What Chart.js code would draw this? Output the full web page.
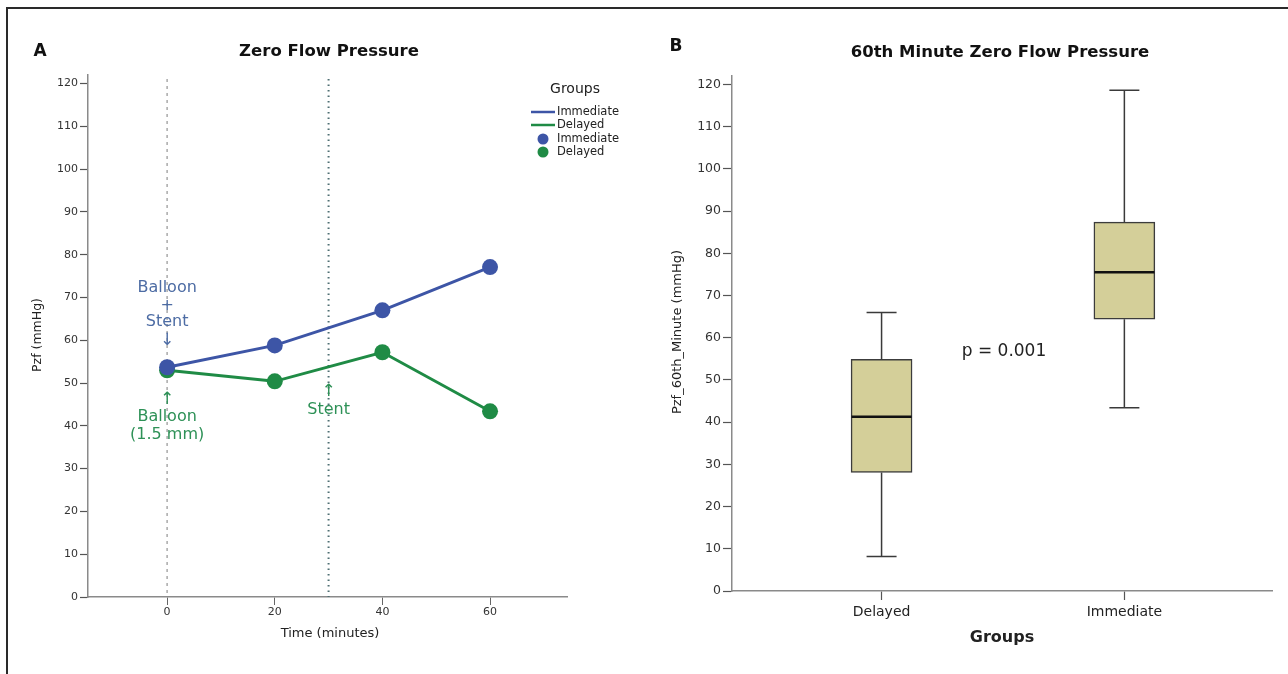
<!DOCTYPE html>
<html><head><meta charset="utf-8">
<script src="https://cdn.jsdelivr.net/npm/chart.js@4.4.1/dist/chart.umd.min.js"></script>
<style>
html,body{margin:0;padding:0;background:#fff;}
#wrap{position:relative;width:1288px;height:674px;overflow:hidden;background:#fff;}
#frame{position:absolute;left:6px;top:7px;width:1300px;height:700px;border-top:2px solid #2a2a2a;border-left:2px solid #2a2a2a;}
.pane{position:absolute;top:0;height:674px;}
</style></head><body>
<div id="wrap">
<div id="frame"></div>
<div class="pane" style="left:0;width:640px"><canvas id="c1" width="640" height="674"></canvas></div>
<div class="pane" style="left:640px;width:648px"><canvas id="c2" width="648" height="674"></canvas></div>
</div>
<script>
// ---------- Data: panel A ----------
const timePoints = [0, 20, 40, 60];
const immediatePzf = [53.7, 58.8, 67.0, 77.1];
const delayedPzf = [53.0, 50.4, 57.2, 43.4];
const eventTimes = [0, 30];
const xTicksA = [0, 20, 40, 60];
const yTicksA = [0, 10, 20, 30, 40, 50, 60, 70, 80, 90, 100, 110, 120];

// ---------- Data: panel B ----------
const boxGroups = ['Delayed', 'Immediate'];
const boxMin = [8.2, 43.4];
const boxQ1 = [28.1, 64.4];
const boxMedian = [41.3, 75.5];
const boxQ3 = [54.9, 87.4];
const boxMax = [66.0, 118.6];
const yTicksB = [0, 10, 20, 30, 40, 50, 60, 70, 80, 90, 100, 110, 120];

const F = '"DejaVu Sans", "Liberation Sans", sans-serif';
const BLUE = '#3d55a6', GREEN = '#1f8b45';
const BLUE_T = '#4d6ca4', GREEN_T = '#2e9157';

function txt(ctx, s, x, y, font, color, align) {
  ctx.save();
  ctx.font = font; ctx.fillStyle = color;
  ctx.textAlign = align || 'center'; ctx.textBaseline = 'middle';
  ctx.fillText(s, x, y);
  ctx.restore();
}
function vtxt(ctx, s, x, y, font, color) {
  ctx.save();
  ctx.translate(x, y); ctx.rotate(-Math.PI / 2);
  ctx.font = font; ctx.fillStyle = color;
  ctx.textAlign = 'center'; ctx.textBaseline = 'middle';
  ctx.fillText(s, 0, 0);
  ctx.restore();
}

// ---------- Panel A ----------
const eventLinesPlugin = {
  id: 'eventLines',
  beforeDatasetsDraw(chart) {
    const ctx = chart.ctx, xs = chart.scales.x, a = chart.chartArea;
    const styles = [{c: '#a9a9a9', d: [3, 4], w: 1.5}, {c: '#4f6f73', d: [1.5, 4], w: 2}];
    eventTimes.forEach((t, i) => {
      const px = xs.getPixelForValue(t);
      ctx.save();
      ctx.strokeStyle = styles[i].c; ctx.lineWidth = styles[i].w;
      ctx.setLineDash(styles[i].d);
      ctx.beginPath(); ctx.moveTo(px, a.top + 4); ctx.lineTo(px, a.bottom); ctx.stroke();
      ctx.restore();
    });
  }
};

const annotPlugin = {
  id: 'annots',
  afterDatasetsDraw(chart) {
    const ctx = chart.ctx, xs = chart.scales.x, ys = chart.scales.y;
    const f16 = '16px ' + F, fa = '17px ' + F;
    const x0 = xs.getPixelForValue(eventTimes[0]);
    const x30 = xs.getPixelForValue(eventTimes[1]);
    const yb = ys.getPixelForValue(immediatePzf[0]);
    // Immediate group annotation
    txt(ctx, 'Balloon', x0, yb - 79, f16, BLUE_T);
    txt(ctx, '+', x0, yb - 61, f16, BLUE_T);
    txt(ctx, 'Stent', x0, yb - 45, f16, BLUE_T);
    txt(ctx, '↓', x0, yb - 27, fa, BLUE_T);
    // Delayed group annotation
    const yg = ys.getPixelForValue(delayedPzf[0]);
    txt(ctx, '↑', x0, yg + 29, fa, GREEN_T);
    txt(ctx, 'Balloon', x0, yg + 47, f16, GREEN_T);
    txt(ctx, '(1.5 mm)', x0, yg + 65, f16, GREEN_T);
    txt(ctx, '↑', x30, yg + 21, fa, GREEN_T);
    txt(ctx, 'Stent', x30, yg + 40, f16, GREEN_T);
  }
};

const legendA = {
  id: 'legendA',
  afterDraw(chart) {
    const ctx = chart.ctx;
    txt(ctx, 'Groups', 575, 89, '14px ' + F, '#222');
    const ds = chart.data.datasets.slice(0, 2);
    const rows = [112, 125, 139, 152];
    const f = '11.5px ' + F;
    ds.forEach((d, i) => {
      ctx.save(); ctx.strokeStyle = d.borderColor; ctx.lineWidth = 2.5;
      ctx.beginPath(); ctx.moveTo(531, rows[i]); ctx.lineTo(555, rows[i]); ctx.stroke(); ctx.restore();
      txt(ctx, d.label, 557, rows[i], f, '#222', 'left');
    });
    ds.forEach((d, i) => {
      ctx.save(); ctx.fillStyle = d.backgroundColor;
      ctx.beginPath(); ctx.arc(543, rows[i + 2], 5.5, 0, Math.PI * 2); ctx.fill(); ctx.restore();
      txt(ctx, d.label, 557, rows[i + 2], f, '#222', 'left');
    });
    txt(ctx, 'A', 40, 52, 'bold 17px ' + F, '#111');
    txt(ctx, 'Zero Flow Pressure', 329, 52, 'bold 16.5px ' + F, '#111');
    vtxt(ctx, 'Pzf (mmHg)', 38, 335, '12.5px ' + F, '#222');
    txt(ctx, 'Time (minutes)', 330, 634, '13px ' + F, '#222');
  }
};

new Chart(document.getElementById('c1'), {
  type: 'scatter',
  data: {
    datasets: [
      {label: 'Immediate', data: timePoints.map((t, i) => ({x: t, y: immediatePzf[i]})),
       showLine: true, borderColor: BLUE, backgroundColor: BLUE, borderWidth: 3,
       pointRadius: 8, pointHoverRadius: 8, pointBorderWidth: 0, pointBackgroundColor: BLUE},
      {label: 'Delayed', data: timePoints.map((t, i) => ({x: t, y: delayedPzf[i]})),
       showLine: true, borderColor: GREEN, backgroundColor: GREEN, borderWidth: 3,
       pointRadius: 8, pointHoverRadius: 8, pointBorderWidth: 0, pointBackgroundColor: GREEN}
    ]
  },
  options: {
    responsive: false, animation: false, events: [],
    layout: {padding: {top: 75, right: 73, left: 0, bottom: 0}},
    plugins: {legend: {display: false}, tooltip: {enabled: false}},
    scales: {
      x: {type: 'linear', min: -14.7, max: 74.3,
          afterBuildTicks: s => { s.ticks = xTicksA.map(v => ({value: v})); },
          afterFit: s => { s.height = 77; },
          grid: {drawOnChartArea: false, tickLength: 8, color: '#666', tickWidth: 1},
          border: {color: '#8a8a8a', width: 1.5},
          ticks: {padding: 1, color: '#333', font: {family: F, size: 11}}},
      y: {type: 'linear', min: 0, max: 122,
          afterBuildTicks: s => { s.ticks = yTicksA.map(v => ({value: v})); },
          afterFit: s => { s.width = 88; },
          grid: {drawOnChartArea: false, tickLength: 8, color: '#555', tickWidth: 1.2},
          border: {color: '#8a8a8a', width: 1.5},
          ticks: {padding: 2, color: '#333', font: {family: F, size: 11}}}
    }
  },
  plugins: [eventLinesPlugin, annotPlugin, legendA]
});

// ---------- Panel B ----------
const boxPlugin = {
  id: 'boxWhiskers',
  afterDatasetsDraw(chart) {
    const ctx = chart.ctx, xs = chart.scales.x, ys = chart.scales.y;
    boxGroups.forEach((g, i) => {
      const px = xs.getPixelForValue(i);
      ctx.save();
      ctx.strokeStyle = '#3a3a3a'; ctx.lineWidth = 1.5;
      ctx.beginPath();
      ctx.moveTo(px, ys.getPixelForValue(boxMax[i])); ctx.lineTo(px, ys.getPixelForValue(boxQ3[i]));
      ctx.moveTo(px, ys.getPixelForValue(boxQ1[i])); ctx.lineTo(px, ys.getPixelForValue(boxMin[i]));
      ctx.moveTo(px - 15, ys.getPixelForValue(boxMax[i])); ctx.lineTo(px + 15, ys.getPixelForValue(boxMax[i]));
      ctx.moveTo(px - 15, ys.getPixelForValue(boxMin[i])); ctx.lineTo(px + 15, ys.getPixelForValue(boxMin[i]));
      ctx.stroke();
      ctx.strokeStyle = '#111'; ctx.lineWidth = 2.5;
      ctx.beginPath();
      ctx.moveTo(px - 30, ys.getPixelForValue(boxMedian[i])); ctx.lineTo(px + 30, ys.getPixelForValue(boxMedian[i]));
      ctx.stroke();
      ctx.restore();
    });
  },
  afterDraw(chart) {
    const ctx = chart.ctx;
    txt(ctx, 'B', 36, 47, 'bold 17px ' + F, '#111');
    txt(ctx, '60th Minute Zero Flow Pressure', 360, 53, 'bold 16.5px ' + F, '#111');
    txt(ctx, 'p = 0.001', 364, 352, '17px ' + F, '#222');
    txt(ctx, 'Groups', 362, 638, 'bold 16px ' + F, '#222');
    vtxt(ctx, 'Pzf_60th_Minute (mmHg)', 38, 332, '13px ' + F, '#222');
  }
};

new Chart(document.getElementById('c2'), {
  type: 'bar',
  data: {
    datasets: [{
      label: 'Pzf_60th_Minute',
      data: boxGroups.map((g, i) => ({x: i, y: [boxQ1[i], boxQ3[i]]})),
      backgroundColor: '#d4cf99', borderColor: '#3c3c3c', borderWidth: 1.5,
      borderSkipped: false, barThickness: 61
    }]
  },
  options: {
    responsive: false, animation: false, events: [],
    layout: {padding: {top: 76, right: 16, left: 0, bottom: 0}},
    plugins: {legend: {display: false}, tooltip: {enabled: false}},
    scales: {
      x: {type: 'linear', min: -0.616, max: 1.608, offset: false,
          afterBuildTicks: s => { s.ticks = boxGroups.map((g, i) => ({value: i})); },
          afterFit: s => { s.height = 83; },
          grid: {offset: false, drawOnChartArea: false, tickLength: 9, color: '#555', tickWidth: 1.2},
          border: {color: '#8a8a8a', width: 1.5},
          ticks: {padding: 4, color: '#222', font: {family: F, size: 14},
                  callback: v => boxGroups[Math.round(v)]}},
      y: {type: 'linear', min: 0, max: 122,
          afterBuildTicks: s => { s.ticks = yTicksB.map(v => ({value: v})); },
          afterFit: s => { s.width = 92; },
          grid: {drawOnChartArea: false, tickLength: 9, color: '#555', tickWidth: 1.2},
          border: {color: '#8a8a8a', width: 1.5},
          ticks: {padding: 2, color: '#333', font: {family: F, size: 12.5}}}
    }
  },
  plugins: [boxPlugin]
});
</script>
</body></html>
